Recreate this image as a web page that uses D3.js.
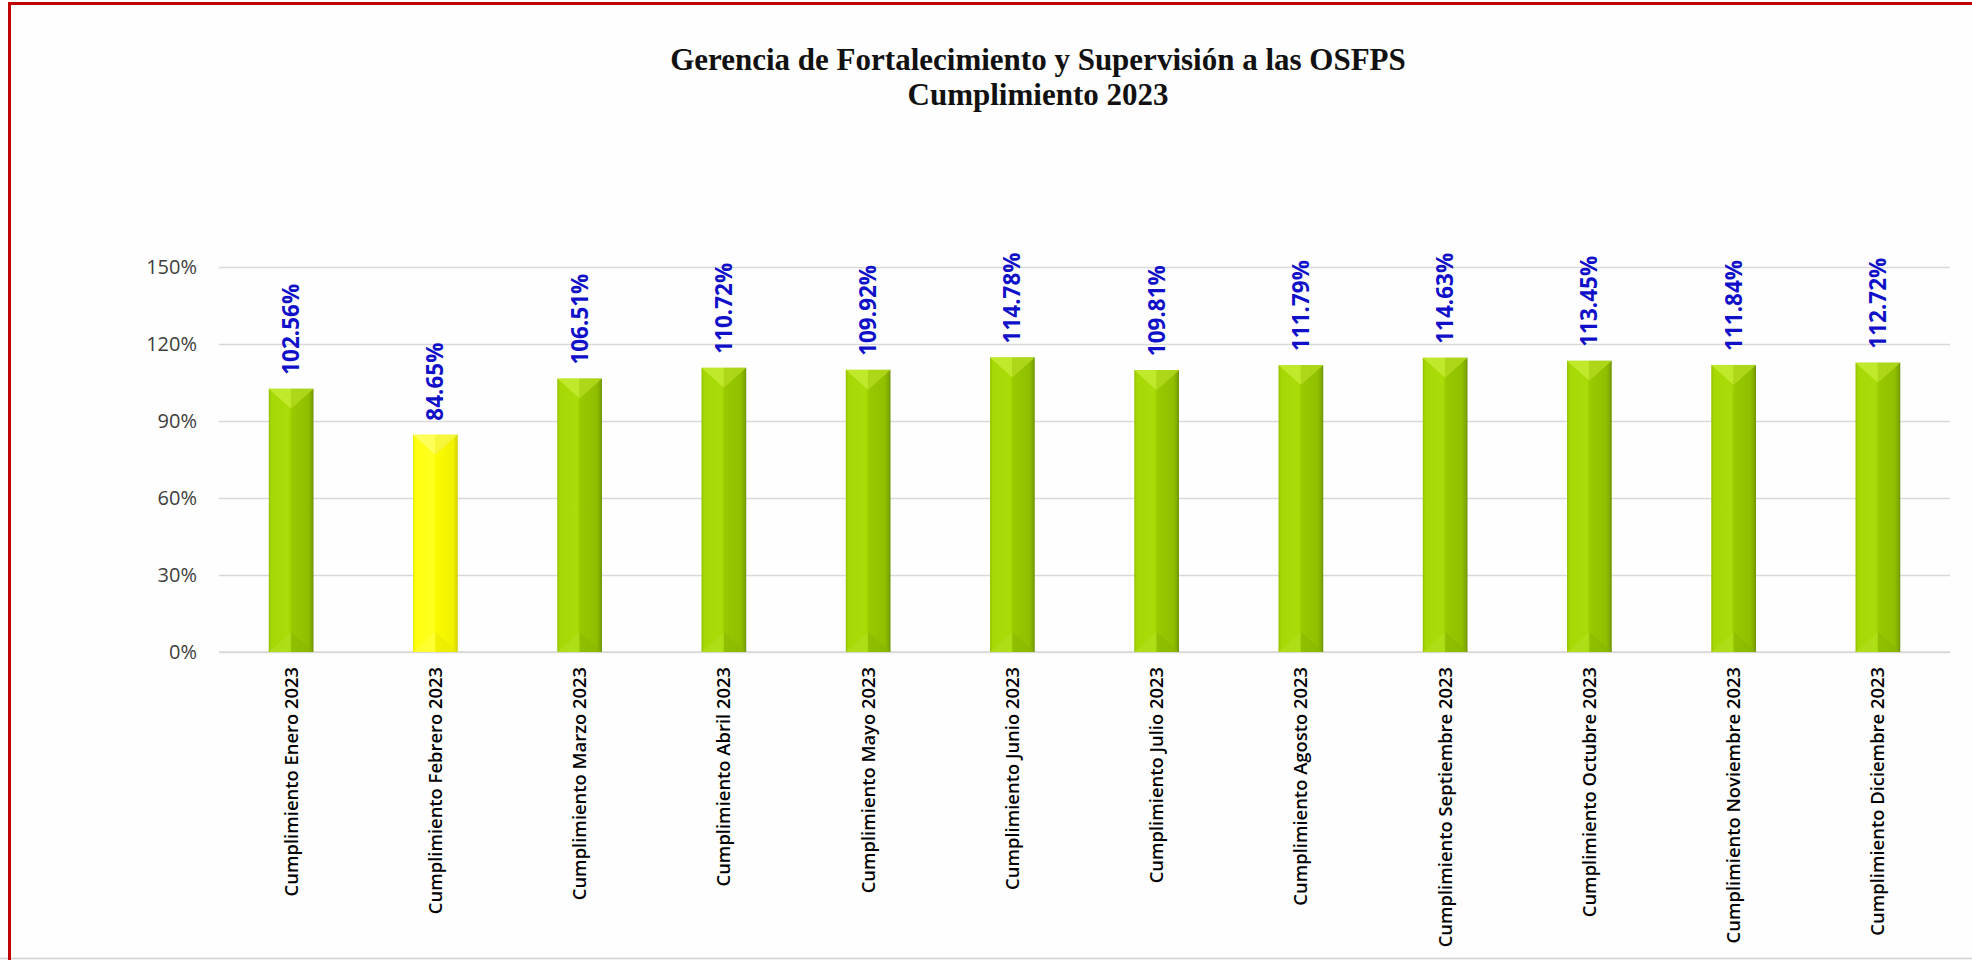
<!DOCTYPE html>
<html>
<head>
<meta charset="utf-8">
<script src="https://cdn.jsdelivr.net/npm/d3@7"></script>
<style>
	html, body { margin: 0; padding: 0; background: #ffffff; }
	#container { width: 1972px; height: 960px; overflow: hidden; }
</style>
</head>
<body>
<div id="container"></div>
<script>
const titleLines = ["Gerencia de Fortalecimiento y Supervisión a las OSFPS", "Cumplimiento 2023"];

const months = [
	"Cumplimiento Enero 2023", "Cumplimiento Febrero 2023", "Cumplimiento Marzo 2023",
	"Cumplimiento Abril 2023", "Cumplimiento Mayo 2023", "Cumplimiento Junio 2023",
	"Cumplimiento Julio 2023", "Cumplimiento Agosto 2023", "Cumplimiento Septiembre 2023",
	"Cumplimiento Octubre 2023", "Cumplimiento Noviembre 2023", "Cumplimiento Diciembre 2023"
];
const values = [102.56, 84.65, 106.51, 110.72, 109.92, 114.78, 109.81, 111.79, 114.63, 113.45, 111.84, 112.72];
const yTicks = [0, 30, 60, 90, 120, 150];

const WIDTH = 1972;
const HEIGHT = 960;
const PLOT = { left: 219, right: 1950, top: 267, bottom: 652 };
const BEVEL = 20;

const data = months.map((m, i) => ({ month: m, value: values[i] }));

const svg = d3.select("#container").append("svg")
	.attr("width", WIDTH)
	.attr("height", HEIGHT);

const defs = svg.append("defs");

function addGradient(id, stops) {
	const g = defs.append("linearGradient")
		.attr("id", id)
		.attr("x1", "0%").attr("x2", "100%")
		.attr("y1", "0%").attr("y2", "0%");
	stops.forEach(s => g.append("stop").attr("offset", s[0]).attr("stop-color", s[1]));
}
addGradient("greenBar", [
	[0, "#93c000"], [0.06, "#a6d806"], [0.45, "#a9dc08"], [0.52, "#99c900"],
	[0.88, "#90bf00"], [0.96, "#7fa800"], [1, "#6b8f00"]
]);
addGradient("yellowBar", [
	[0, "#eaea00"], [0.06, "#ffff10"], [0.45, "#ffff20"], [0.52, "#fafa00"],
	[0.9, "#f2f200"], [1, "#cfcf00"]
]);

// background + frame
svg.append("rect")
	.attr("width", WIDTH)
	.attr("height", HEIGHT)
	.attr("fill", "#fefefe");
svg.append("line")
	.attr("x1", 0).attr("x2", WIDTH)
	.attr("y1", 958.5).attr("y2", 958.5)
	.attr("stroke", "#d0d0d0")
	.attr("stroke-width", 1.5);
svg.append("rect")
	.attr("x", 9.5)
	.attr("y", 3.5)
	.attr("width", WIDTH + 100)
	.attr("height", HEIGHT + 100)
	.attr("fill", "none")
	.attr("stroke", "#c00000")
	.attr("stroke-width", 3);

// title
svg.append("text")
	.attr("x", 1038)
	.attr("y", 70)
	.attr("text-anchor", "middle")
	.style("font-family", "'Liberation Serif', serif")
	.style("font-weight", "bold")
	.style("font-size", "31px")
	.attr("fill", "#111")
	.selectAll("tspan")
	.data(titleLines)
	.enter()
	.append("tspan")
	.attr("x", 1038)
	.attr("dy", (d, i) => i === 0 ? 0 : 35)
	.text(d => d);

const xScale = d3.scaleBand()
	.domain(months)
	.range([PLOT.left, PLOT.right])
	.paddingInner(0.69)
	.paddingOuter(0.345)
;

const yScale = d3.scaleLinear()
	.domain([0, 150])
	.range([PLOT.bottom, PLOT.top])
;

const yAxis = d3.axisLeft(yScale)
	.tickValues(yTicks)
	.tickFormat(d => d + "%")
	.tickSize(-(PLOT.right - PLOT.left))
	.tickPadding(22)
;

const gy = svg.append("g")
	.attr("class", "y axis")
	.attr("transform", `translate(${PLOT.left}, 0)`)
	.call(yAxis);
gy.select(".domain").remove();
gy.selectAll(".tick line")
	.attr("stroke", "#d9d9d9")
	.attr("stroke-width", 1.5);
gy.selectAll(".tick text")
	.attr("fill", "#404040")
	.style("font-family", "'Open Sans', sans-serif")
	.style("font-size", "20px");

const xAxis = d3.axisBottom(xScale)
	.tickSize(0)
	.tickPadding(0)
;
const gx = svg.append("g")
	.attr("class", "x axis")
	.attr("transform", `translate(0, ${PLOT.bottom})`)
	.call(xAxis);
gx.select(".domain")
	.attr("stroke", "#d9d9d9")
	.attr("stroke-width", 1.5)
	.attr("d", `M${PLOT.left},0H${PLOT.right}`);
gx.selectAll(".tick text")
	.attr("transform", "translate(0, 15) rotate(-90)")
	.attr("x", 0)
	.attr("y", 0)
	.attr("dy", "0.35em")
	.attr("text-anchor", "end")
	.attr("fill", "#000")
	.style("font-family", "'Open Sans', sans-serif")
	.style("font-weight", "600")
	.style("font-size", "18.4px");

// bars
const bars = svg.append("g").attr("class", "bars")
	.selectAll("g")
	.data(data)
	.enter()
	.append("g");

bars.append("rect")
	.attr("x", d => xScale(d.month))
	.attr("y", d => yScale(d.value))
	.attr("width", xScale.bandwidth())
	.attr("height", d => yScale(0) - yScale(d.value))
	.attr("fill", d => d.value < 100 ? "url(#yellowBar)" : "url(#greenBar)");

function bevel(d, top, half) {
	const x0 = xScale(d.month);
	const x1 = x0 + xScale.bandwidth();
	const xm = x0 + xScale.bandwidth() / 2;
	const y0 = top ? yScale(d.value) : yScale(0);
	const yv = top ? y0 + BEVEL : y0 - BEVEL;
	const xs = half === 0 ? x0 : x1;
	return [[xs, y0], [xm, y0], [xm, yv]].map(p => p.join(",")).join(" ");
}

bars.append("polygon")
	.attr("points", d => bevel(d, true, 0))
	.attr("fill", d => d.value < 100 ? "#ffff60" : "#c3ea30")
	.attr("opacity", 0.9);
bars.append("polygon")
	.attr("points", d => bevel(d, true, 1))
	.attr("fill", d => d.value < 100 ? "#f5f540" : "#b0d81c")
	.attr("opacity", 0.9);
bars.append("polygon")
	.attr("points", d => bevel(d, false, 0))
	.attr("fill", d => d.value < 100 ? "#ffff40" : "#b2e020")
	.attr("opacity", 0.6);
bars.append("polygon")
	.attr("points", d => bevel(d, false, 1))
	.attr("fill", d => d.value < 100 ? "#e6e600" : "#88b400")
	.attr("opacity", 0.5);

// data labels
bars.append("text")
	.attr("transform", d => `translate(${xScale(d.month) + xScale.bandwidth() / 2}, ${yScale(d.value) - 14}) rotate(-90)`)
	.attr("dy", "0.35em")
	.attr("text-anchor", "start")
	.attr("fill", "#1010c8")
	.style("font-family", "'Open Sans', sans-serif")
	.style("font-weight", "bold")
	.style("font-size", "22.5px")
	.text(d => d.value.toFixed(2) + "%");
</script>
</body>
</html>
